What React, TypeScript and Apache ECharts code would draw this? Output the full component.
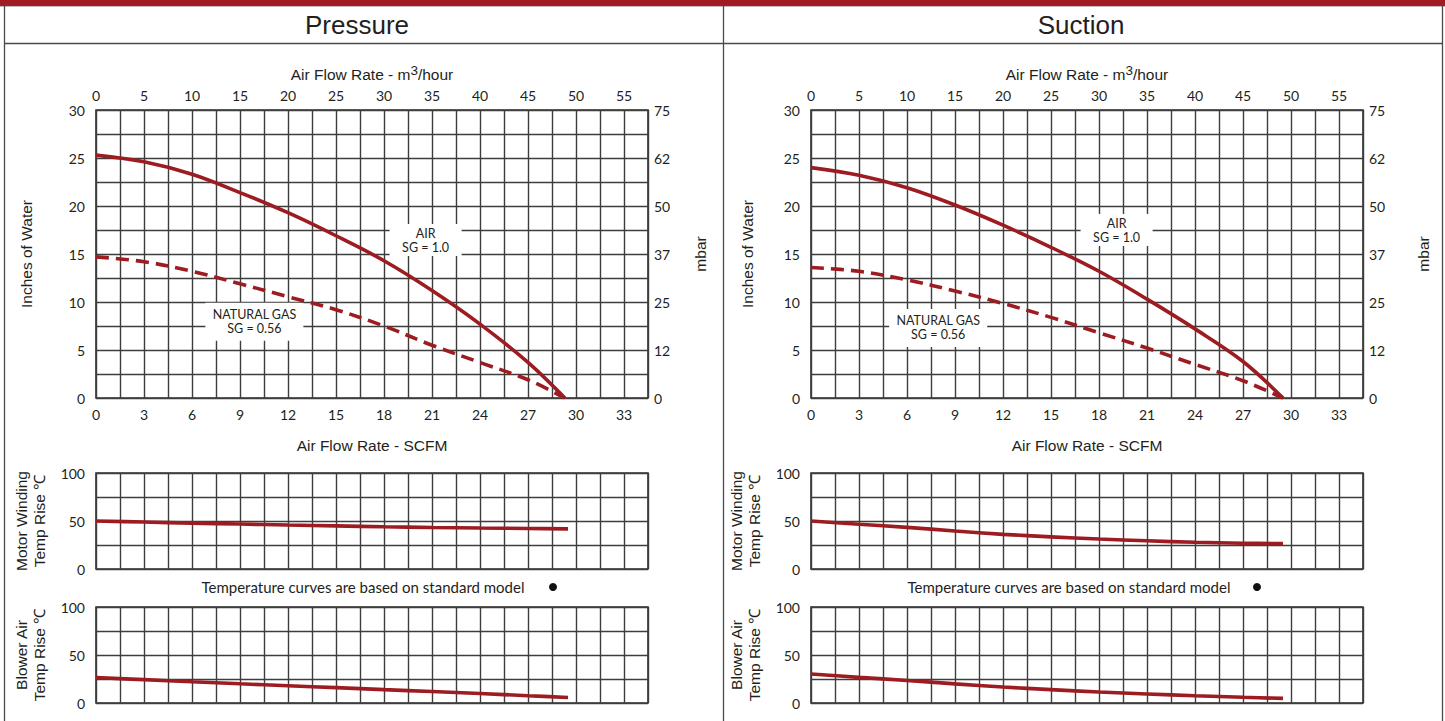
import React, { useEffect, useRef } from "react";
import * as echarts from "echarts";

// ---- tick labels ----
const scfmTicks = [0, 3, 6, 9, 12, 15, 18, 21, 24, 27, 30, 33];
const m3hTicks = [0, 5, 10, 15, 20, 25, 30, 35, 40, 45, 50, 55];
const inchTicks = [0, 5, 10, 15, 20, 25, 30];
const mbarTicks = ["0", "12", "25", "37", "50", "62", "75"];
const tempTicks = [0, 50, 100];

// ---- Pressure panel data (SCFM -> inches of water) ----
const pressureX = [0, 3, 6, 9, 12, 15, 18, 21, 24, 27, 29.3];
const pressureAir = [25.3, 24.6, 23.3, 21.4, 19.3, 16.9, 14.3, 11.2, 7.7, 3.7, 0];
const pressureGas = [14.7, 14.2, 13.2, 11.9, 10.55, 9.2, 7.5, 5.5, 3.7, 1.9, 0];

// ---- Suction panel data ----
const suctionX = [0, 3, 6, 9, 12, 15, 18, 21, 24, 27, 29.5];
const suctionAir = [24.0, 23.2, 21.9, 20.1, 18.0, 15.7, 13.2, 10.3, 7.2, 3.8, 0];
const suctionGas = [13.6, 13.2, 12.3, 11.15, 9.85, 8.4, 6.8, 5.2, 3.5, 1.8, 0];

// ---- Temperature curves (SCFM -> deg C) ----
const tempX = [0, 3, 6, 9, 12, 15, 18, 21, 24, 27, 29.5];
const pressureMotor = [50, 48.9, 47.8, 46.8, 45.8, 44.9, 44.0, 43.3, 42.7, 42.2, 41.8];
const pressureBlower = [26.5, 24.3, 22.1, 20.0, 18.0, 16.0, 13.9, 11.9, 9.9, 7.6, 5.8];
const suctionMotor = [50, 46.6, 43.4, 39.6, 36.1, 33.5, 31.2, 29.4, 27.8, 26.9, 26.4];
const suctionBlower = [30.2, 26.7, 23.5, 19.9, 16.6, 13.9, 11.4, 9.4, 7.6, 6.0, 4.8];

const RED = "#9d1c22";
const GRID = "#3d3d3d";
const TXT = "#231f20";
const TICK_FONT = "Lato";
const NAME_FONT = "Liberation Sans";

const pairs = (xs: number[], ys: number[]) => xs.map((x, i) => [x, ys[i]]);

export default function App() {
  const ref = useRef<HTMLDivElement>(null);

  useEffect(() => {
    if (!ref.current) return;
    const chart = echarts.init(ref.current, undefined, { renderer: "svg" });

    const panels = [
      {
        left: 96, title: "Pressure", titleX: 357,
        x: pressureX, air: pressureAir, gas: pressureGas,
        motor: pressureMotor, blower: pressureBlower,
        inchGap: 62, mbarGap: 44,
        airLabel: [20.6, 16.45], gasLabel: [9.9, 7.95],
        noteX: 363, dotX: 553,
      },
      {
        left: 811, title: "Suction", titleX: 1081,
        x: suctionX, air: suctionAir, gas: suctionGas,
        motor: suctionMotor, blower: suctionBlower,
        inchGap: 56, mbarGap: 52,
        airLabel: [19.1, 17.5], gasLabel: [7.95, 7.3],
        noteX: 1069, dotX: 1257,
      },
    ];

    const grid: any[] = [];
    const xAxis: any[] = [];
    const yAxis: any[] = [];
    const series: any[] = [];
    const graphic: any[] = [];

    const tickLabel = { color: TXT, fontFamily: TICK_FONT, fontSize: 14 };
    const split = { show: true, lineStyle: { color: GRID, width: 1.4 } };
    const nameStyle = { color: TXT, fontFamily: NAME_FONT, fontSize: 15.5 };
    const curve = { smooth: 0.35, showSymbol: false, z: 5 };

    panels.forEach((p) => {
      const g0 = grid.length;
      grid.push(
        { left: p.left, top: 110, width: 552, height: 288, show: true, borderColor: "#2e2e2e", borderWidth: 1.6, backgroundColor: "transparent" },
        { left: p.left, top: 473, width: 552, height: 96, show: true, borderColor: "#2e2e2e", borderWidth: 1.6, backgroundColor: "transparent" },
        { left: p.left, top: 607, width: 552, height: 96, show: true, borderColor: "#2e2e2e", borderWidth: 1.6, backgroundColor: "transparent" }
      );

      const xBottom = xAxis.length;
      xAxis.push({
        type: "value", gridIndex: g0, position: "bottom", min: 0, max: 34.5, interval: 1.5,
        axisLine: { show: false }, axisTick: { show: false },
        axisLabel: { ...tickLabel, margin: 9, formatter: (v: number) => (scfmTicks.includes(v) ? String(v) : "") },
        splitLine: split,
        name: "Air Flow Rate - SCFM", nameLocation: "middle", nameGap: 39, nameTextStyle: nameStyle,
      });
      xAxis.push({
        type: "value", gridIndex: g0, position: "top", min: 0, max: 57.5, interval: 5,
        axisLine: { show: false }, axisTick: { show: false }, splitLine: { show: false },
        axisLabel: { ...tickLabel, margin: 8, formatter: (v: number) => (m3hTicks.includes(v) ? String(v) : "") },
        name: "{a|Air Flow Rate - m}{b|3}{a|/hour}", nameLocation: "middle", nameGap: 28,
        nameTextStyle: {
          rich: {
            a: { ...nameStyle, lineHeight: 19, verticalAlign: "bottom" },
            b: { ...nameStyle, fontSize: 13.5, lineHeight: 14, verticalAlign: "top" },
          },
        },
      });
      const xMotor = xAxis.length;
      xAxis.push({
        type: "value", gridIndex: g0 + 1, min: 0, max: 34.5, interval: 1.5,
        axisLine: { show: false }, axisTick: { show: false }, axisLabel: { show: false }, splitLine: split,
      });
      const xBlower = xAxis.length;
      xAxis.push({
        type: "value", gridIndex: g0 + 2, min: 0, max: 34.5, interval: 1.5,
        axisLine: { show: false }, axisTick: { show: false }, axisLabel: { show: false }, splitLine: split,
      });

      const yInch = yAxis.length;
      yAxis.push({
        type: "value", gridIndex: g0, position: "left", min: 0, max: 30, interval: 2.5,
        axisLine: { show: false }, axisTick: { show: false },
        axisLabel: { ...tickLabel, margin: 11, formatter: (v: number) => (inchTicks.includes(v) ? String(v) : "") },
        splitLine: split,
        name: "Inches of Water", nameLocation: "middle", nameGap: p.inchGap, nameRotate: 90, nameTextStyle: nameStyle,
      });
      yAxis.push({
        type: "value", gridIndex: g0, position: "right", min: 0, max: 30, interval: 5,
        axisLine: { show: false }, axisTick: { show: false }, splitLine: { show: false },
        axisLabel: { ...tickLabel, margin: 6, formatter: (v: number) => mbarTicks[Math.round(v / 5)] ?? "" },
        name: "mbar", nameLocation: "middle", nameGap: p.mbarGap, nameRotate: 90, nameTextStyle: nameStyle,
      });
      const yMotor = yAxis.length;
      yAxis.push({
        type: "value", gridIndex: g0 + 1, min: 0, max: 100, interval: 25,
        axisLine: { show: false }, axisTick: { show: false },
        axisLabel: { ...tickLabel, margin: 11, formatter: (v: number) => (tempTicks.includes(v) ? String(v) : "") },
        splitLine: split,
        name: "Motor Winding\nTemp Rise \u2103", nameLocation: "middle", nameGap: 48, nameRotate: 90,
        nameTextStyle: { ...nameStyle, lineHeight: 18 },
      });
      const yBlower = yAxis.length;
      yAxis.push({
        type: "value", gridIndex: g0 + 2, min: 0, max: 100, interval: 25,
        axisLine: { show: false }, axisTick: { show: false },
        axisLabel: { ...tickLabel, margin: 11, formatter: (v: number) => (tempTicks.includes(v) ? String(v) : "") },
        splitLine: split,
        name: "Blower Air\nTemp Rise \u2103", nameLocation: "middle", nameGap: 48, nameRotate: 90,
        nameTextStyle: { ...nameStyle, lineHeight: 18 },
      });

      const labelStyle = { color: TXT, fontFamily: TICK_FONT, fontSize: 12.5, lineHeight: 14 };

      series.push({
        type: "line", name: p.title + " Air", xAxisIndex: xBottom, yAxisIndex: yInch,
        data: pairs(p.x, p.air), ...curve,
        lineStyle: { color: RED, width: 3.6 },
        markPoint: {
          silent: true, animation: false,
          data: [{
            coord: p.airLabel, symbol: "rect", symbolSize: [72, 32],
            itemStyle: { color: "#ffffff" },
            label: { show: true, position: "inside", formatter: "AIR\nSG = 1.0", ...labelStyle },
          }],
        },
      });
      series.push({
        type: "line", name: p.title + " Natural Gas", xAxisIndex: xBottom, yAxisIndex: yInch,
        data: pairs(p.x, p.gas), ...curve,
        lineStyle: { color: RED, width: 3.6, type: [13, 7] },
        markPoint: {
          silent: true, animation: false,
          data: [{
            coord: p.gasLabel, symbol: "rect", symbolSize: [98, 38],
            itemStyle: { color: "#ffffff" },
            label: { show: true, position: "inside", formatter: "NATURAL GAS\nSG = 0.56", ...labelStyle },
          }],
        },
      });
      series.push({
        type: "line", name: p.title + " Motor", xAxisIndex: xMotor, yAxisIndex: yMotor,
        data: pairs(tempX, p.motor), ...curve,
        lineStyle: { color: RED, width: 3.6 },
      });
      series.push({
        type: "line", name: p.title + " Blower", xAxisIndex: xBlower, yAxisIndex: yBlower,
        data: pairs(tempX, p.blower), ...curve,
        lineStyle: { color: RED, width: 3.6 },
      });

      graphic.push({
        type: "text", x: p.titleX, y: 25,
        style: { text: p.title, fill: TXT, font: `26px "${NAME_FONT}"`, textAlign: "center", textVerticalAlign: "middle" },
      });
      graphic.push({
        type: "text", x: p.noteX, y: 587,
        style: { text: "Temperature curves are based on standard model", fill: TXT, font: `15px "${TICK_FONT}"`, textAlign: "center", textVerticalAlign: "middle" },
      });
      graphic.push({ type: "circle", shape: { cx: p.dotX, cy: 587, r: 4 }, style: { fill: "#111" } });
    });

    // frame
    graphic.push(
      { type: "rect", shape: { x: 0, y: 0, width: 1445, height: 5.5 }, style: { fill: "#a01b24" } },
      { type: "line", shape: { x1: 0, y1: 5.8, x2: 1445, y2: 5.8 }, style: { stroke: "#3b1416", lineWidth: 1 } },
      { type: "line", shape: { x1: 4.5, y1: 6, x2: 4.5, y2: 721 }, style: { stroke: "#4a4a4a", lineWidth: 1.3 } },
      { type: "line", shape: { x1: 723.5, y1: 6, x2: 723.5, y2: 721 }, style: { stroke: "#4a4a4a", lineWidth: 1.3 } },
      { type: "line", shape: { x1: 1442.5, y1: 6, x2: 1442.5, y2: 721 }, style: { stroke: "#4a4a4a", lineWidth: 1.3 } },
      { type: "line", shape: { x1: 4.5, y1: 43.5, x2: 1442.5, y2: 43.5 }, style: { stroke: "#4a4a4a", lineWidth: 1.3 } }
    );

    chart.setOption({
      animation: false,
      backgroundColor: "#ffffff",
      grid, xAxis, yAxis, series, graphic,
    });

    return () => chart.dispose();
  }, []);

  return (
    <div
      ref={ref}
      style={{ position: "fixed", left: 0, top: 0, width: 1445, height: 721 }}
    />
  );
}
